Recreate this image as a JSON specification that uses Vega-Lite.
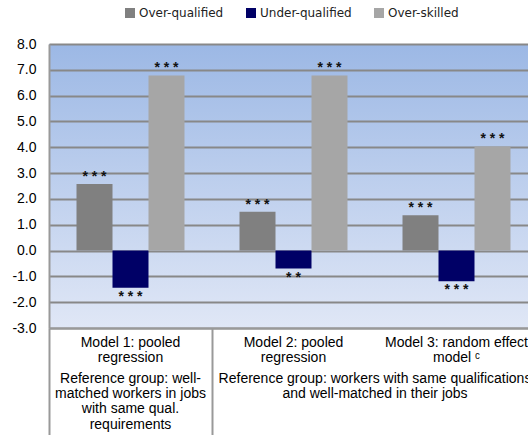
{
  "$schema": "https://vega.github.io/schema/vega-lite/v6.json",
  "width": 479,
  "height": 284,
  "autosize": "none",
  "padding": {"left": 49, "top": 44, "right": 0, "bottom": 107},
  "background": "#ffffff",
  "config": {
    "view": {
      "stroke": null,
      "fill": {"gradient": "linear", "x1": 0, "y1": 0, "x2": 0, "y2": 1,
        "stops": [{"offset": 0, "color": "#9cb8e5"}, {"offset": 1, "color": "#e0e7f6"}]}
    },
    "font": "Liberation Sans",
    "axisY": {
      "title": null,
      "values": [-3, -2, -1, 0, 1, 2, 3, 4, 5, 6, 7, 8],
      "grid": true, "gridColor": "#888888", "gridWidth": 2,
      "domain": true, "domainColor": "#999999", "domainWidth": 2,
      "ticks": false, "labelPadding": 13,
      "labelOverlap": false, "labelSeparation": 0,
      "labelFont": "Liberation Sans",
      "labelFontSize": 14, "labelColor": "#000000",
      "labelExpr": "replace(format(datum.value, '.1f'), '\u2212', '-')"
    }
  },
  "datasets": {
    "bars": [
      {"model": "M1", "series": "Over-qualified", "value": 2.58, "sig": "* * *"},
      {"model": "M1", "series": "Under-qualified", "value": -1.44, "sig": "* * *"},
      {"model": "M1", "series": "Over-skilled", "value": 6.78, "sig": "* * *"},
      {"model": "M2", "series": "Over-qualified", "value": 1.5, "sig": "* * *"},
      {"model": "M2", "series": "Under-qualified", "value": -0.7, "sig": "* *"},
      {"model": "M2", "series": "Over-skilled", "value": 6.78, "sig": "* * *"},
      {"model": "M3", "series": "Over-qualified", "value": 1.37, "sig": "* * *"},
      {"model": "M3", "series": "Under-qualified", "value": -1.19, "sig": "* * *"},
      {"model": "M3", "series": "Over-skilled", "value": 4.03, "sig": "* * *"}
    ],
    "refs1": [
      {"model": "M1", "text": "Reference group: well-\nmatched workers in jobs\nwith same qual.\nrequirements"}
    ],
    "refs2": [
      {"model": "M3", "text": "Reference group: workers with same qualifications\nand well-matched in their jobs"}
    ]
  },
  "layer": [
    {
      "data": {"name": "bars"},
      "mark": {"type": "bar"},
      "encoding": {
        "x": {
          "field": "model", "type": "nominal",
          "scale": {"domain": ["M1", "M2", "M3"], "range": [0, 489], "paddingInner": 0, "paddingOuter": 0},
          "axis": {
            "title": null,
            "labelAngle": 0,
            "domain": true, "domainColor": "#999999", "domainWidth": 2,
            "ticks": true, "tickSize": 107, "tickColor": "#999999", "tickWidth": 2,
            "bandPosition": 0,
            "tickOpacity": {"condition": {"test": "datum.value === 'M3'", "value": 0}, "value": 1},
            "labelPadding": -100,
            "labelFont": "Liberation Sans",
            "labelFontSize": 14, "labelColor": "#000000", "labelLineHeight": 15.5,
            "labelOverlap": false,
            "labelExpr": "datum.value === 'M1' ? ['Model 1: pooled', 'regression'] : datum.value === 'M2' ? ['Model 2: pooled', 'regression'] : ['Model 3: random effect', 'model ᶜ']"
          }
        },
        "xOffset": {
          "field": "series", "type": "nominal",
          "scale": {"domain": ["Over-qualified", "Under-qualified", "Over-skilled"], "paddingInner": 0, "paddingOuter": 0.764}
        },
        "y": {
          "field": "value", "type": "quantitative",
          "scale": {"domain": [-3, 8], "nice": false, "zero": false}
        },
        "color": {
          "field": "series", "type": "nominal",
          "scale": {"domain": ["Over-qualified", "Under-qualified", "Over-skilled"], "range": ["#808080", "#000066", "#a6a6a6"]},
          "legend": {
            "title": null, "orient": "none", "direction": "horizontal",
            "legendX": 75, "legendY": -37,
            "symbolType": "square", "symbolSize": 100, "symbolStrokeWidth": 0,
            "labelFont": "DejaVu Sans", "labelFontSize": 12, "labelColor": "#222222",
            "labelOffset": 3, "columnPadding": 21, "padding": 0, "offset": 0
          }
        }
      }
    },
    {
      "data": {"name": "bars"},
      "transform": [{"filter": "datum.value > 0"}],
      "mark": {"type": "text", "baseline": "bottom", "font": "Liberation Sans", "fontSize": 14, "fontWeight": "bold", "color": "#111111", "dy": 0},
      "encoding": {
        "x": {"field": "model", "type": "nominal"},
        "xOffset": {"field": "series", "type": "nominal"},
        "y": {"field": "value", "type": "quantitative"},
        "text": {"field": "sig"}
      }
    },
    {
      "data": {"name": "bars"},
      "transform": [{"filter": "datum.value < 0"}],
      "mark": {"type": "text", "baseline": "top", "font": "Liberation Sans", "fontSize": 14, "fontWeight": "bold", "color": "#111111", "dy": 2},
      "encoding": {
        "x": {"field": "model", "type": "nominal"},
        "xOffset": {"field": "series", "type": "nominal"},
        "y": {"field": "value", "type": "quantitative"},
        "text": {"field": "sig"}
      }
    },
    {
      "data": {"name": "refs1"},
      "mark": {"type": "text", "baseline": "top", "align": "center", "font": "Liberation Sans", "fontSize": 14, "lineHeight": 15.3, "lineBreak": "\n", "color": "#000000"},
      "encoding": {
        "x": {"field": "model", "type": "nominal", "bandPosition": 0.5},
        "y": {"datum": -4.69, "type": "quantitative"},
        "text": {"field": "text"}
      }
    },
    {
      "data": {"name": "refs2"},
      "mark": {"type": "text", "baseline": "top", "align": "center", "font": "Liberation Sans", "fontSize": 14, "lineHeight": 15.3, "lineBreak": "\n", "color": "#000000"},
      "encoding": {
        "x": {"field": "model", "type": "nominal", "bandPosition": 0},
        "y": {"datum": -4.69, "type": "quantitative"},
        "text": {"field": "text"}
      }
    }
  ]
}
